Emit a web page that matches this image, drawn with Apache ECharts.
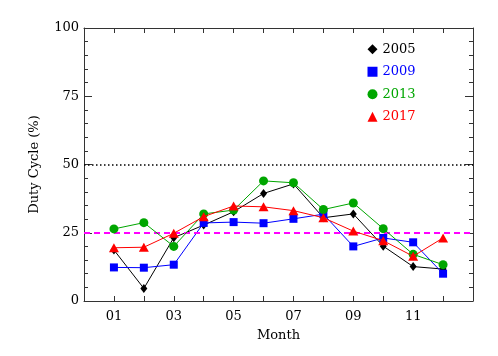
<!DOCTYPE html>
<html>
<head>
<meta charset="utf-8">
<script src="https://cdn.jsdelivr.net/npm/echarts@6/dist/echarts.min.js"></script>
<style>html,body{margin:0;padding:0;background:#fff}#c{width:498px;height:356px}</style>
</head>
<body>
<div id="c"></div>
<script>
const months = [1,2,3,4,5,6,7,8,9,10,11,12];
const xTickLabels = ['01','03','05','07','09','11'];
const yTicks = [0,25,50,75,100];
const years = ['2005','2009','2013','2017'];
const v2005 = [18.7, 4.6, 23.2, 27.8, 32.7, 39.4, 42.9, 30.5, 31.9, 20.1, 12.6, 11.7];
const v2009 = [12.3, 12.2, 13.3, 28.6, 28.9, 28.5, 30.1, 31.8, 20.0, 23.1, 21.5, 10.0];
const v2013 = [26.4, 28.7, 20.0, 31.9, 33.3, 44.0, 43.3, 33.5, 35.9, 26.5, 17.1, 13.3];
const v2017 = [19.5, 19.7, 24.8, 30.9, 34.8, 34.5, 33.1, 30.5, 25.6, 22.1, 16.4, 23.1];
const refHigh = 50;
const refLow = 25;

const colors = ['#000000','#0000ff','#00a600','#ff0000'];
const symbols = ['diamond','rect','circle','triangle'];
const sizes = [[7,9],8,9,[10,9]];
const values = [v2005, v2009, v2013, v2017];
const font = 'DejaVu Serif';
const axisColor = '#333';

const series = years.map((y,i) => ({
  name: y,
  type: 'line',
  data: months.map((m,j) => [m, values[i][j]]),
  symbol: symbols[i],
  symbolSize: sizes[i],
  itemStyle: {color: colors[i]},
  lineStyle: {color: colors[i], width: 1},
  z: 3 + i,
  animation: false
}));
series[0].markLine = {
  silent: true, symbol: 'none', animation: false,
  label: {show: false},
  data: [
    {yAxis: refHigh, lineStyle: {color: '#000', type: [1.5,2.5], width: 1.5}},
    {yAxis: refLow, lineStyle: {color: '#ff00ff', type: [6,4], width: 2}}
  ]
};

const chart = echarts.init(document.getElementById('c'), null, {renderer: 'canvas'});
chart.setOption({
  backgroundColor: '#fff',
  animation: false,
  grid: {left: 84, right: 25, top: 28, bottom: 55},
  legend: {
    orient: 'vertical', left: 362.5, top: 37, itemWidth: 10, itemHeight: 10, itemGap: 8,
    data: years.map((y,i) => ({name: y, icon: symbols[i], itemStyle: {color: colors[i]}, textStyle: {color: colors[i]}})),
    textStyle: {fontFamily: font, fontSize: 13, lineHeight: 14.5},
    selectedMode: false
  },
  xAxis: [{
    type: 'value', min: 0, max: 13, interval: 1, position: 'bottom',
    name: 'Month', nameLocation: 'middle', nameGap: 28,
    nameTextStyle: {fontFamily: font, fontSize: 13, color: '#000'},
    axisLine: {show: true, onZero: false, lineStyle: {color: axisColor, width: 1}},
    axisTick: {show: true, inside: true, length: 5, lineStyle: {color: axisColor, width: 1}},
    axisLabel: {fontFamily: font, fontSize: 13, color: '#000', margin: 9,
      formatter: v => { const s = String(v).padStart(2,'0'); return xTickLabels.includes(s) ? s : ''; }},
    splitLine: {show: false}
  },{
    type: 'value', min: 0, max: 13, interval: 1, position: 'top',
    axisLine: {show: true, onZero: false, lineStyle: {color: axisColor, width: 1}},
    axisTick: {show: true, inside: true, length: 5, lineStyle: {color: axisColor, width: 1}},
    axisLabel: {show: false}, splitLine: {show: false}
  }],
  yAxis: [{
    type: 'value', min: 0, max: 100, interval: 25, position: 'left',
    name: 'Duty Cycle (%)', nameLocation: 'middle', nameGap: 43,
    nameTextStyle: {fontFamily: font, fontSize: 13, color: '#000'},
    axisLine: {show: true, onZero: false, lineStyle: {color: axisColor, width: 1}},
    axisTick: {show: true, inside: true, length: 8, lineStyle: {color: axisColor, width: 1}},
    minorTick: {show: true, splitNumber: 5, length: 4, lineStyle: {color: axisColor, width: 1}},
    axisLabel: {fontFamily: font, fontSize: 13, color: '#000', margin: 5,
      formatter: v => yTicks.includes(v) ? String(v) : ''},
    splitLine: {show: false}
  },{
    type: 'value', min: 0, max: 100, interval: 25, position: 'right',
    axisLine: {show: true, onZero: false, lineStyle: {color: axisColor, width: 1}},
    axisTick: {show: true, inside: true, length: 8, lineStyle: {color: axisColor, width: 1}},
    minorTick: {show: true, splitNumber: 5, length: 4, lineStyle: {color: axisColor, width: 1}},
    axisLabel: {show: false}, splitLine: {show: false}
  }],
  series: series
});
</script>
</body>
</html>
